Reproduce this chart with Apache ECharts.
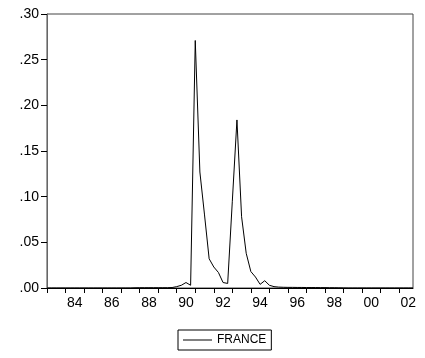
<!DOCTYPE html>
<html>
<head>
<meta charset="utf-8">
<script src="https://cdn.jsdelivr.net/npm/echarts@6/dist/echarts.min.js"></script>
<style>
  html, body { margin: 0; padding: 0; background: #fff; }
  #chart { width: 425px; height: 358px; }
</style>
</head>
<body>
<div id="chart"></div>
<script>
// Quarterly series, 1983Q1 .. 2002Q4
const startYear = 1983;
const seriesName = 'FRANCE';
const france = [
  // 1983-1985
  0, 0, 0, 0, 0, 0, 0, 0, 0, 0, 0, 0,
  // 1986-1988
  0, 0, 0, 0, 0, 0, 0, 0.0002, 0.0003, 0.0003, 0.0003, 0.0003,
  // 1989
  0.0003, 0.0003, 0.0003, 0.0005,
  // 1990
  0.0015, 0.003, 0.006, 0.003,
  // 1991
  0.271, 0.127, 0.08, 0.032,
  // 1992
  0.023, 0.017, 0.006, 0.005,
  // 1993
  0.095, 0.184, 0.078, 0.038,
  // 1994
  0.018, 0.012, 0.004, 0.008,
  // 1995
  0.003, 0.0015, 0.001, 0.0008,
  // 1996-1998
  0.0007, 0.0007, 0.0006, 0.0006, 0.0005, 0.0005, 0.0005, 0.0004, 0.0004, 0.0003, 0.0003, 0.0002,
  // 1999-2002
  0.0001, 0, 0, 0, 0, 0, 0, 0, 0, 0, 0, 0, 0, 0, 0, 0
];
const yTicks = [0, 0.05, 0.10, 0.15, 0.20, 0.25, 0.30];
const yearTicks = [];
for (let y = 1983; y <= 2002; y++) yearTicks.push(y);
const yearLabels = [1984, 1986, 1988, 1990, 1992, 1994, 1996, 1998, 2000, 2002];

const points = france.map((v, i) => [startYear + i / 4, v]);
const lastX = startYear + (france.length - 1) / 4;

const font = 'Liberation Sans, Arial, sans-serif';
const chart = echarts.init(document.getElementById('chart'), null, { renderer: 'canvas' });
chart.setOption({
  animation: false,
  backgroundColor: '#fff',
  grid: {
    left: 47, right: 12, top: 14, bottom: 70,
    show: true, borderColor: '#444', borderWidth: 1, backgroundColor: 'transparent'
  },
  xAxis: {
    type: 'value',
    min: startYear,
    max: lastX,
    splitLine: { show: false },
    axisLine: { show: true, lineStyle: { color: '#000', width: 1 } },
    axisTick: {
      show: true, length: 5, inside: false,
      customValues: yearTicks,
      lineStyle: { color: '#000', width: 1 }
    },
    axisLabel: {
      // year labels sit in the middle of their year
      customValues: yearLabels.map(y => y + 0.5),
      formatter: v => String(Math.floor(v) % 100).padStart(2, '0'),
      color: '#000', fontFamily: font, fontSize: 14, margin: 8
    }
  },
  yAxis: {
    type: 'value',
    min: 0, max: 0.3, interval: 0.05,
    splitLine: { show: false },
    axisLine: { show: true, lineStyle: { color: '#666', width: 1 } },
    axisTick: { show: true, length: 6, inside: false, lineStyle: { color: '#000' } },
    axisLabel: {
      customValues: yTicks,
      formatter: v => v.toFixed(2).replace(/^0/, ''),
      color: '#000', fontFamily: font, fontSize: 14, margin: 8
    }
  },
  legend: {
    data: [seriesName],
    left: 178, top: 330,
    orient: 'horizontal',
    borderColor: '#000', borderWidth: 1,
    padding: [4, 5, 4, 5],
    icon: 'rect', itemWidth: 29, itemHeight: 1, itemGap: 5,
    textStyle: { color: '#000', fontFamily: font, fontSize: 12 }
  },
  series: [{
    name: seriesName,
    type: 'line',
    data: points,
    showSymbol: false,
    symbol: 'none',
    lineStyle: { color: '#000', width: 1 },
    itemStyle: { color: '#000' }
  }]
});
</script>
</body>
</html>
